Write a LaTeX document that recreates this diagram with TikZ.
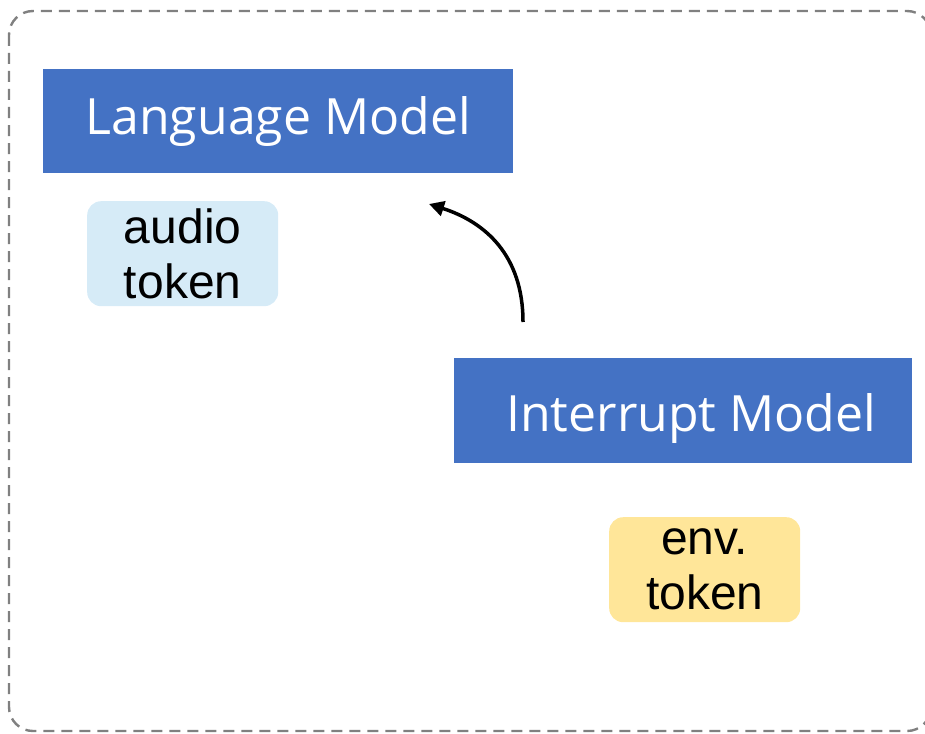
\documentclass[tikz,border=0pt]{standalone}
\usepackage{fontspec}
\setmainfont{Liberation Sans}
\newfontfamily\uifont{Open Sans}
\usetikzlibrary{arrows.meta}
\definecolor{modelblue}{HTML}{4472C4}
\definecolor{audiofill}{HTML}{D6EBF7}
\definecolor{envfill}{HTML}{FFE699}
\definecolor{framegray}{HTML}{808080}
\begin{document}
\begin{tikzpicture}[x=1pt,y=-1pt,
  model/.style={fill=modelblue, text=white, inner sep=0pt, anchor=north west,
    font=\uifont\fontsize{50}{60}\selectfont},
  tokenbox/.style={rounded corners=14pt, inner sep=0pt, anchor=north west,
    align=center, font=\fontsize{48}{55}\selectfont},
  frame/.style={draw=framegray, line width=2.4pt, dash pattern=on 11pt off 7pt,
    rounded corners=24pt},
  flow/.style={-{Triangle[length=15pt,width=15pt]}, line width=3.5pt}]
\useasboundingbox (0,0) rectangle (925,733);
% dashed outer frame, its right side running past the page edge
\draw[frame] (9,11) rectangle (931,731);
% model blocks
\node[model, minimum width=470pt, minimum height=104pt] (lm) at (43,69) {Language Model};
\node[model, minimum width=458pt, minimum height=105pt] (im) at (454,358)
  {\raisebox{-21pt}[0pt][0pt]{\hspace{16pt}Interrupt Model}};
% token boxes
\node[tokenbox, fill=audiofill, minimum width=191pt, minimum height=105pt] (audio) at (87,201) {audio\\token};
\node[tokenbox, fill=envfill, minimum width=191pt, minimum height=105pt] (env) at (609,517) {env.\\token};
% curved arrow from the interrupt model up to the language model
\coordinate (from) at (523,322);
\coordinate (to) at (429,204);
\draw[flow] (from) .. controls (523,255) and (485,222) .. (to);
\end{tikzpicture}
\end{document}
